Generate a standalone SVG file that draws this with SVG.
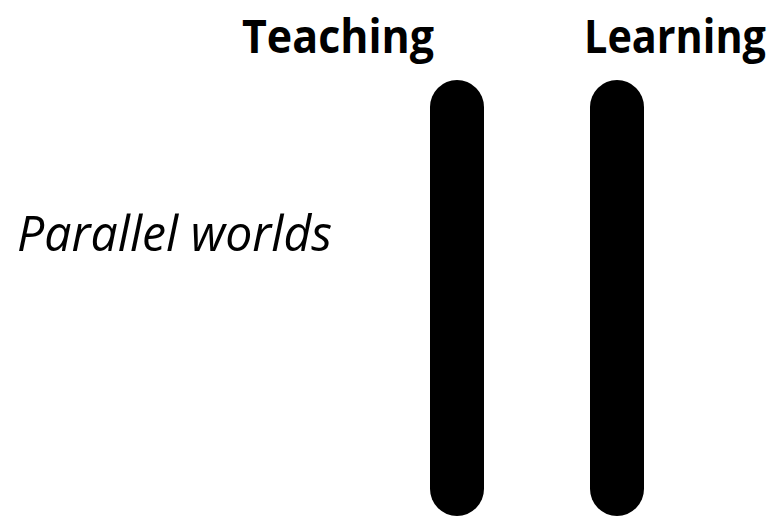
<svg xmlns="http://www.w3.org/2000/svg" width="779" height="516" viewBox="0 0 779 516">
  <style>
    .head { font-family: "Open Sans", "Liberation Sans", sans-serif; font-weight: bold; font-size: 47px; fill: #000; }
    .side { font-family: "Open Sans", "Liberation Sans", sans-serif; font-style: italic; font-size: 49px; fill: #000; }
    .bar { fill: #000; }
  </style>
  <rect width="779" height="516" fill="#fff"/>
  <g id="teaching">
    <text class="head" x="242" y="53" textLength="192" lengthAdjust="spacingAndGlyphs">Teaching</text>
    <rect class="bar" x="430" y="80" width="54" height="436" rx="27"/>
  </g>
  <g id="learning">
    <text class="head" x="584" y="53" textLength="182" lengthAdjust="spacingAndGlyphs">Learning</text>
    <rect class="bar" x="590" y="80" width="54" height="436" rx="27"/>
  </g>
  <g id="parallel-worlds">
    <text class="side" x="17" y="251" textLength="315" lengthAdjust="spacingAndGlyphs">Parallel worlds</text>
  </g>
</svg>
